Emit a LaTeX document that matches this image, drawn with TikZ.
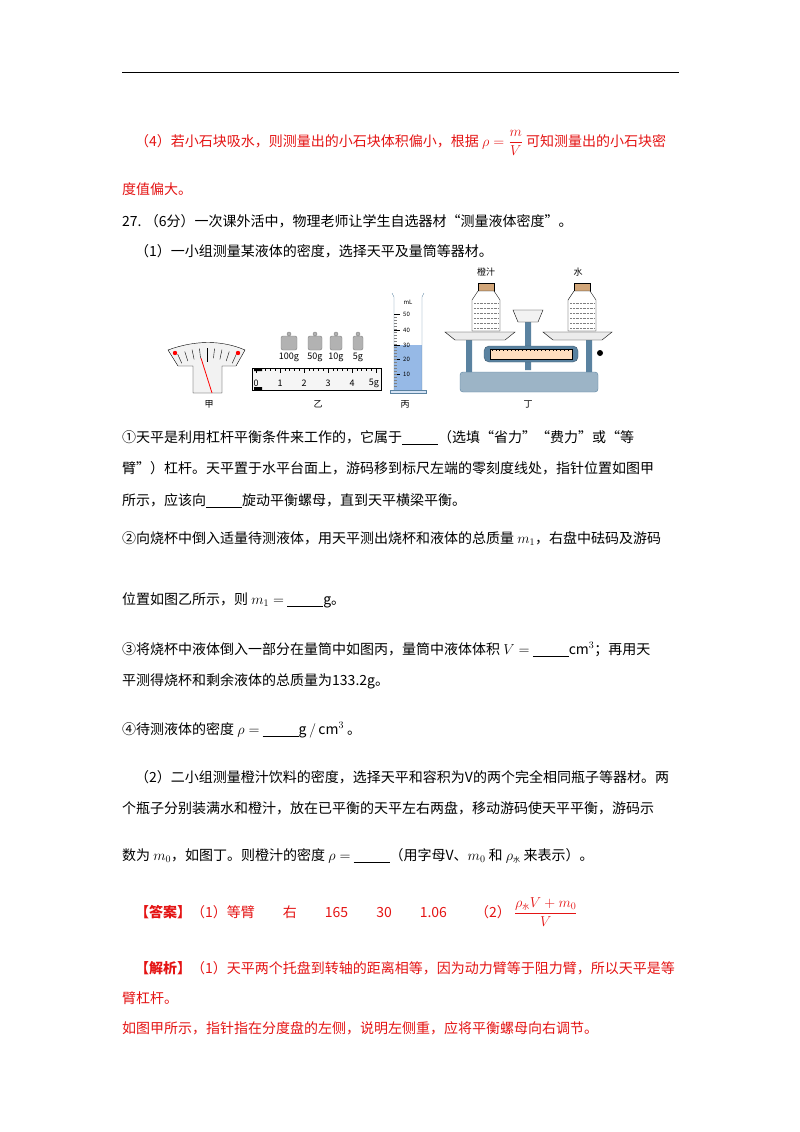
\documentclass[tikz,border=0pt]{standalone}
\usepackage{fontspec}
\setmainfont{Noto Sans CJK SC}
\definecolor{ansred}{RGB}{228,20,20}
\definecolor{liq}{RGB}{150,185,230}
\definecolor{steel}{RGB}{90,130,160}
\newcommand{\blank}{\rule[-2pt]{36pt}{0.5pt}}
\tikzset{
  line/.style={anchor=base west, inner sep=0pt, font=\fontsize{14}{16}\selectfont},
  redline/.style={line, text=ansred},
  figlabel/.style={font=\fontsize{9}{10}\selectfont, inner sep=1pt},
  weight/.style={draw=gray, fill=gray!60, rounded corners=2pt}
}
\begin{document}
\begin{tikzpicture}[x=1pt,y=-1pt]
\useasboundingbox (0,0) rectangle (800,1132);
\draw[thick] (122,72) -- (679,72);

\node[redline] (t1) at (135,146) {（4）若小石块吸水，则测量出的小石块体积偏小，根据 $\displaystyle\rho=\frac{m}{V}$ 可知测量出的小石块密};
\node[redline] (t2) at (122,194) {度值偏大。};
\node[line] (t3) at (122,226) {27.\ （6分）一次课外活中，物理老师让学生自选器材“测量液体密度”。};
\node[line] (t4) at (135,256) {（1）一小组测量某液体的密度，选择天平及量筒等器材。};

% 甲 dial
\draw[fill=gray!10] (168,350) .. controls (195,340) and (222,340) .. (245,350)
  -- (236,366) -- (222,366) -- (222,393) -- (193,393) -- (193,366) -- (178,366) -- cycle;
\foreach \a in {-24,-18,...,24} \draw (207,420) ++(-90+\a:72) -- ++(-90+\a:-10);
\draw[thick] (207,348) -- (207,362);
\fill[red] (175,353) circle (2.2) (238,353) circle (2.2);
\draw[red, thick] (212,393) -- (201,358);
\node[figlabel] (jia) at (209,404) {甲};

% 乙 weights and ruler
\foreach \x/\w/\m in {289/100g/8, 315/50g/7, 336/10g/6, 358/5g/5} {
  \draw[weight] (\x-\m,336) rectangle (\x+\m,350);
  \draw[weight] (\x-2,332) rectangle (\x+2,336);
  \node[figlabel] at (\x,357) {\w};
}
\draw[fill=gray!8] (252,368) rectangle (381,390);
\foreach \i in {0,...,25} \draw (256+\i*4.8,368) -- ++(0,{mod(\i,5)==0 ? 5 : 3});
\foreach \i in {0,...,4} \node[figlabel] at (256+\i*24,383) {\i};
\node[figlabel] at (374,383) {5g};
\fill (254,368) rectangle (262,371) (254,387) rectangle (262,390);
\node[figlabel] (yi) at (318,404) {乙};

% 丙 cylinder
\fill[liq] (394,345) rectangle (422,390);
\draw[steel] (392,293) -- (394,297) -- (394,390) (424,293) -- (422,297) -- (422,390);
\draw[steel, fill=liq!40] (390,390) rectangle (426,393);
\node[figlabel, font=\fontsize{6}{7}\selectfont] at (408,302) {mL};
\foreach \v/\y in {50/314, 40/330, 30/345, 20/359, 10/374} {
  \draw (394,\y) -- ++(6,0);
  \node[figlabel, font=\fontsize{6}{7}\selectfont, anchor=west] at (402,\y) {\v};
}
\foreach \y in {317,320,...,386} \draw[gray] (394,\y) -- ++(3,0);
\node[figlabel] (bing) at (405,404) {丙};

% 丁 balance
\draw[steel, fill=steel!60, rounded corners=3pt] (460,372) rectangle (598,392);
\fill[steel] (466,340) rectangle (472,372) (586,340) rectangle (592,372) (525,318) rectangle (531,370);
\draw[fill=gray!15] (445,332) -- (515,332) -- (505,340) -- (455,340) -- cycle;
\draw[fill=gray!15] (543,332) -- (612,332) -- (602,340) -- (553,340) -- cycle;
\draw[steel!70!black, fill=steel, rounded corners=5pt] (484,346) rectangle (578,362);
\draw[fill=orange!25] (490,349) rectangle (572,359);
\foreach \i in {0,...,20} \draw (492+\i*3.8,349) -- ++(0,2);
\draw[fill=gray!10] (513,310) -- (543,310) -- (538,322) -- (518,322) -- cycle;
\fill (600,353) circle (3);
\foreach \x in {486,582} {
  \draw[fill=brown!70] (\x-8,283) rectangle (\x+8,291);
  \draw[fill=white] (\x-8,291) -- (\x+8,291) -- (\x+14,300) -- (\x+14,331) -- (\x-14,331) -- (\x-14,300) -- cycle;
  \foreach \y in {303,308,...,328} \draw[gray, densely dotted] (\x-12,\y) -- (\x+12,\y);
}
\node[figlabel] (juice) at (486,272) {橙汁};
\node[figlabel] (water) at (578,272) {水};
\node[figlabel] (ding) at (528,404) {丁};

\node[line] (t5) at (122,442) {①天平是利用杠杆平衡条件来工作的，它属于\blank（选填“省力”“费力”或“等};
\node[line] (t6) at (122,473) {臂”）杠杆。天平置于水平台面上，游码移到标尺左端的零刻度线处，指针位置如图甲};
\node[line] (t7) at (122,505) {所示，应该向\blank 旋动平衡螺母，直到天平横梁平衡。};
\node[line] (t8) at (122,543) {②向烧杯中倒入适量待测液体，用天平测出烧杯和液体的总质量 $m_1$，右盘中砝码及游码};
\node[line] (t9) at (122,604) {位置如图乙所示，则 $m_1=$ \blank g。};
\node[line] (t10) at (122,654) {③将烧杯中液体倒入一部分在量筒中如图丙，量筒中液体体积 $V=$ \blank cm$^3$；再用天};
\node[line] (t11) at (122,685) {平测得烧杯和剩余液体的总质量为133.2g。};
\node[line] (t12) at (122,734) {④待测液体的密度 $\rho=$ \blank g$\,/\,$cm$^3$ 。};
\node[line] (t13) at (135,782) {（2）二小组测量橙汁饮料的密度，选择天平和容积为V的两个完全相同瓶子等器材。两};
\node[line] (t14) at (122,813) {个瓶子分别装满水和橙汁，放在已平衡的天平左右两盘，移动游码使天平平衡，游码示};
\node[line] (t15) at (122,860) {数为 $m_0$，如图丁。则橙汁的密度 $\rho=$ \blank（用字母V、$m_0$ 和 $\rho_{\mbox{\scriptsize 水}}$ 来表示）。};
\node[redline] (t16) at (135,917) {\textbf{【答案】}（1）等臂\quad\quad 右\quad\quad 165\quad\quad 30\quad\quad 1.06\quad\quad（2）\ $\displaystyle\frac{\rho_{\mbox{\scriptsize 水}}V+m_0}{V}$};
\node[redline] (t17) at (135,973) {\textbf{【解析】}（1）天平两个托盘到转轴的距离相等，因为动力臂等于阻力臂，所以天平是等};
\node[redline] (t18) at (122,1003) {臂杠杆。};
\node[redline] (t19) at (122,1033) {如图甲所示，指针指在分度盘的左侧，说明左侧重，应将平衡螺母向右调节。};
\end{tikzpicture}
\end{document}
